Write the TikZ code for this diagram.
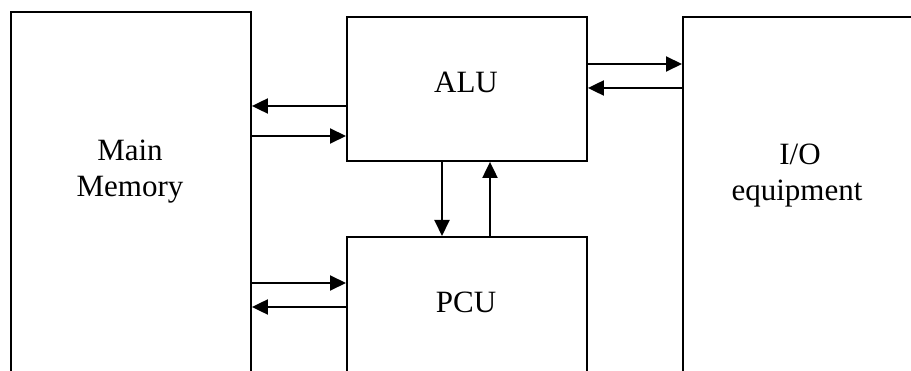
\documentclass[tikz,border=0pt]{standalone}
\usepackage{fontspec}
\setmainfont{Liberation Serif}
\usetikzlibrary{arrows.meta,calc}
\begin{document}
\begin{tikzpicture}[x=1pt,y=-1pt,
  blk/.style={draw,line width=1.9pt,inner sep=0pt,anchor=north west,rectangle},
  lbl/.style={anchor=base,inner sep=0pt,font=\fontsize{31}{36}\selectfont},
  conn/.style={line width=2pt,-{Triangle[length=16pt,width=15pt]}}]
\useasboundingbox (0,0) rectangle (911,371);
\clip (0,0) rectangle (911,371);
\node[blk,minimum width=240pt,minimum height=420pt] (mem) at (10,11) {};
\node[blk,minimum width=240pt,minimum height=144pt] (alu) at (346,16) {};
\node[blk,minimum width=240pt,minimum height=200pt] (pcu) at (346,236) {};
\node[blk,minimum width=250pt,minimum height=420pt] (io) at (682,16) {};
\node[lbl] (t1) at (130,161) {Main};
\node[lbl] (t2) at (130,197) {Memory};
\node[lbl] (t3) at (466,93) {ALU};
\node[lbl] (t4) at (466,313) {PCU};
\node[lbl] (t5) at (800,165) {I/O};
\node[lbl] (t6) at (797,201) {equipment};
\draw[conn] (alu.west |- 0,106) -- (mem.east |- 0,106);
\draw[conn] (mem.east |- 0,136) -- (alu.west |- 0,136);
\draw[conn] (alu.east |- 0,64) -- (io.west |- 0,64);
\draw[conn] (io.west |- 0,88) -- (alu.east |- 0,88);
\draw[conn] (mem.east |- 0,283) -- (pcu.west |- 0,283);
\draw[conn] (pcu.west |- 0,307) -- (mem.east |- 0,307);
\draw[conn] (alu.south -| 442,0) -- (pcu.north -| 442,0);
\draw[conn] (pcu.north -| 490,0) -- (alu.south -| 490,0);
\end{tikzpicture}
\end{document}
